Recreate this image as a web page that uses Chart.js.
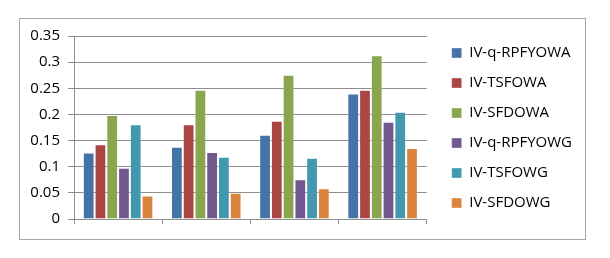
<!DOCTYPE html>
<html>
<head>
<meta charset="utf-8">
<style>
    html, body { margin: 0; padding: 0; background: #ffffff; }
    #wrap { position: relative; width: 610px; height: 258px; }
</style>
<script src="https://cdn.jsdelivr.net/npm/chart.js"></script>
</head>
<body>
<div id="wrap"><canvas id="chart" width="610" height="258"></canvas></div>
<script>
    // data
    const groups = ['1', '2', '3', '4'];
    const seriesNames = ['IV-q-RPFYOWA', 'IV-TSFOWA', 'IV-SFDOWA', 'IV-q-RPFYOWG', 'IV-TSFOWG', 'IV-SFDOWG'];
    const qRPFYOWA = [0.127, 0.138, 0.161, 0.240];
    const TSFOWA = [0.143, 0.181, 0.188, 0.247];
    const SFDOWA = [0.199, 0.247, 0.276, 0.313];
    const qRPFYOWG = [0.098, 0.128, 0.076, 0.186];
    const TSFOWG = [0.181, 0.119, 0.117, 0.205];
    const SFDOWG = [0.045, 0.050, 0.059, 0.136];
    const yMax = 0.35;
    const yStep = 0.05;

    (() => {
        const colours = ['#4572A7', '#AA4643', '#89A54E', '#71588F', '#4198AF', '#DB843D'];
        const values = [qRPFYOWA, TSFOWA, SFDOWA, qRPFYOWG, TSFOWG, SFDOWG];
        const gridColour = '#8e8e8e';
        const font = { family: '"Open Sans", sans-serif', size: 15 };

        // grey frame around the whole chart
        const framePlugin = {
            id: 'frame',
            beforeDraw(chart) {
                const ctx = chart.ctx;
                ctx.save();
                ctx.fillStyle = '#ffffff';
                ctx.fillRect(0, 0, chart.width, chart.height);
                ctx.strokeStyle = '#a6a6a6';
                ctx.lineWidth = 1;
                ctx.strokeRect(19.5, 18.5, 566, 221);
                ctx.restore();
            }
        };

        const hidden = {
            display: true,
            grid: { display: false },
            ticks: { display: false },
            border: { display: false }
        };

        new Chart(document.getElementById('chart').getContext('2d'), {
            type: 'bar',
            data: {
                labels: groups,
                datasets: values.map((v, i) => ({
                    label: seriesNames[i],
                    data: v,
                    backgroundColor: colours[i],
                    borderColor: 'rgba(255,255,255,0.35)',
                    borderWidth: 1,
                    xAxisID: 'x',
                    yAxisID: 'y'
                }))
            },
            options: {
                responsive: false,
                animation: false,
                events: [],
                layout: { padding: { left: 0, top: 30.5, right: 28, bottom: 0 } },
                datasets: { bar: { categoryPercentage: 0.8, barPercentage: 1.0 } },
                plugins: {
                    tooltip: { enabled: false },
                    legend: {
                        position: 'right',
                        align: 'start',
                        maxWidth: 220,
                        labels: {
                            boxWidth: 10,
                            boxHeight: 10,
                            padding: 15,
                            color: '#000000',
                            font: font
                        }
                    }
                },
                scales: {
                    x: {
                        position: 'bottom',
                        grid: { display: true, drawOnChartArea: false, drawTicks: true, tickLength: 5, color: gridColour, offset: true },
                        border: { display: true, color: gridColour },
                        ticks: { display: false },
                        afterFit(scale) { scale.height = 39; }
                    },
                    y: {
                        position: 'left',
                        min: 0,
                        max: yMax,
                        ticks: {
                            stepSize: yStep,
                            padding: 8,
                            color: '#000000',
                            font: font,
                            callback: v => String(+v.toFixed(2))
                        },
                        grid: { color: gridColour, tickLength: 6, drawTicks: true },
                        border: { display: true, color: gridColour },
                        afterFit(scale) { scale.width = 74; }
                    },
                    xTop: Object.assign({ position: 'top', type: 'category', afterFit(scale) { scale.height = 5.5; } }, hidden),
                    yRight: Object.assign({ position: 'right', type: 'linear', afterFit(scale) { scale.width = 10; } }, hidden)
                }
            },
            plugins: [framePlugin]
        });
    })();
</script>
</body>
</html>
